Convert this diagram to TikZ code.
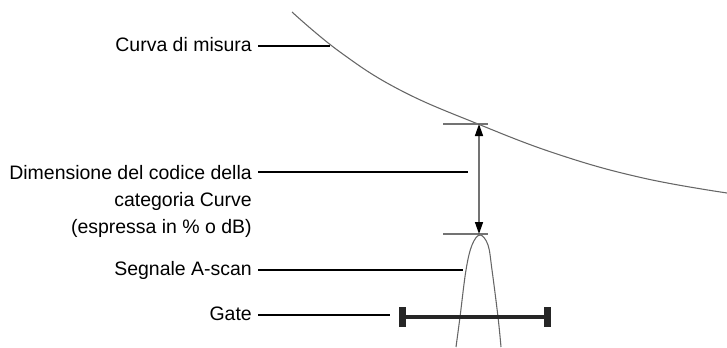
\documentclass[tikz,border=0pt]{standalone}
\usepackage{fontspec}
\setmainfont{Liberation Sans}
\usetikzlibrary{arrows.meta}
\tikzset{
  lbl/.style={font=\fontsize{14.6}{20.3}\selectfont, align=right, inner ysep=0pt, inner xsep=4.5pt},
  leader/.style={line width=1.5pt, draw=black},
  trace/.style={line width=0.8pt, draw=black!60},
  tickl/.style={line width=1.1pt, draw=black!55},
  dimarr/.style={{Triangle[length=9pt,width=6pt,color=black]}-{Triangle[length=9pt,width=6pt,color=black]},
    line width=1.1pt, draw=black!55},
  gatebar/.style={line width=3pt, draw=black!85,
    {Bar[width=14.5pt,line width=5pt]}-{Bar[width=14.5pt,line width=5pt]}},
}

\begin{document}
\begin{tikzpicture}[x=0.75pt, y=-0.75pt]
    \useasboundingbox (0,0) rectangle (727,347);
    % measurement curve and A-scan
    \draw[trace] plot[smooth, tension=0.7] coordinates {(292,12) (340,52) (400,90) (478,124) (560,155) (643,178) (727,193)};
    \draw[trace] plot[smooth, tension=0.6] coordinates {(456,347) (460,317) (466,270) (472,245) (480,235) (488,245) (492,270) (498,317) (501,347)};
    % curve size
    \coordinate (ctop) at (479,124);
    \coordinate (cbot) at (479,234);
    \draw[tickl] (443,124) -- (488,124);
    \draw[tickl] (443,234) -- (488,234);
    \draw[dimarr] (ctop) -- (cbot);
    % gate
    \coordinate (gl) at (399,317);
    \coordinate (gr) at (551,317);
    \draw[gatebar] (gl) -- (gr);
    % labels
    \node[lbl, anchor=base east] (curva) at (258,51) {Curva di misura};
    \node[lbl, anchor=north east] (dimcode) at (258,165) {Dimensione del codice della\\categoria Curve\\(espressa in \% o dB)};
    \node[lbl, anchor=base east] (ascan) at (258,275) {Segnale A-scan};
    \node[lbl, anchor=base east] (gate) at (258,320) {Gate};
    % leaders
    \coordinate (curvatip) at (330,46);
    \coordinate (dimtip) at (468,172);
    \coordinate (ascantip) at (463,270);
    \coordinate (gatetip) at (390,315);
    \draw[leader] (curva.east |- curvatip) -- (curvatip);
    \draw[leader] (dimcode.east |- dimtip) -- (dimtip);
    \draw[leader] (ascan.east |- ascantip) -- (ascantip);
    \draw[leader] (gate.east |- gatetip) -- (gatetip);
\end{tikzpicture}
\end{document}
